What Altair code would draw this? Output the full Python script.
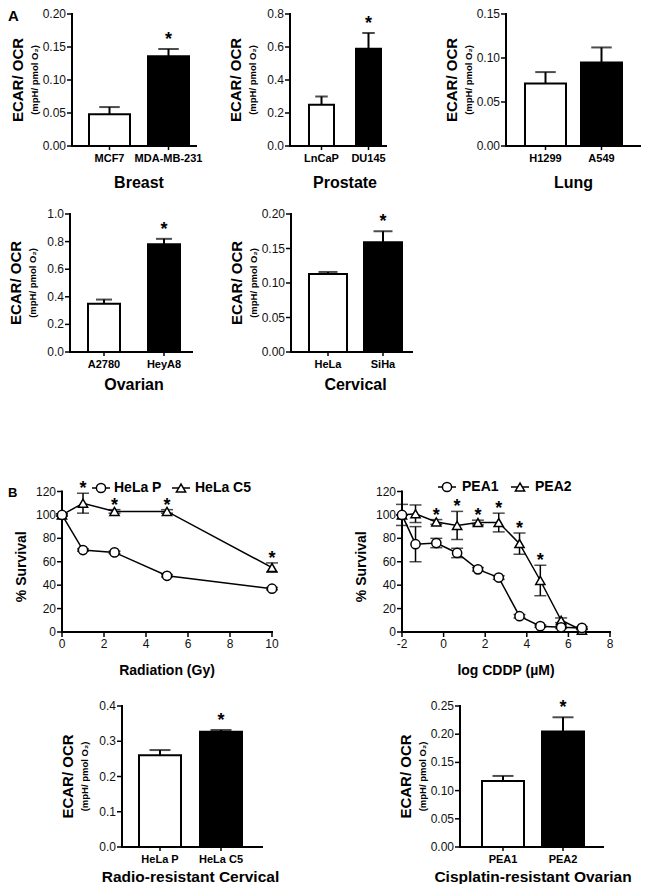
import altair as alt
import pandas as pd

# ---------------- data ----------------
breast_cells = ["MCF7", "MDA-MB-231"]
breast_ratio = [0.048, 0.136]
breast_sem = [0.011, 0.011]
breast_sig = [False, True]

prostate_cells = ["LnCaP", "DU145"]
prostate_ratio = [0.25, 0.59]
prostate_sem = [0.05, 0.095]
prostate_sig = [False, True]

lung_cells = ["H1299", "A549"]
lung_ratio = [0.071, 0.095]
lung_sem = [0.013, 0.017]
lung_sig = [False, False]

ovarian_cells = ["A2780", "HeyA8"]
ovarian_ratio = [0.35, 0.78]
ovarian_sem = [0.03, 0.04]
ovarian_sig = [False, True]

cervical_cells = ["HeLa", "SiHa"]
cervical_ratio = [0.113, 0.159]
cervical_sem = [0.003, 0.016]
cervical_sig = [False, True]

radio_cells = ["HeLa P", "HeLa C5"]
radio_ratio = [0.26, 0.327]
radio_sem = [0.015, 0.005]
radio_sig = [False, True]

cis_cells = ["PEA1", "PEA2"]
cis_ratio = [0.117, 0.205]
cis_sem = [0.009, 0.025]
cis_sig = [False, True]

rad_names = ["HeLa P", "HeLa C5"]
rad_dose = [0, 1, 2.5, 5, 10]
helap_surv = [100, 70, 68, 48, 37]
helap_sem = [1, 1, 1, 1, 1]
helac5_surv = [100, 110, 103, 103, 55]
helac5_sem = [1, 8.5, 1.5, 1.5, 4]
helac5_sig = [False, True, True, True, True]

cddp_names = ["PEA1", "PEA2"]
cddp_log = [-2, -1.35, -0.35, 0.65, 1.65, 2.65, 3.65, 4.65, 5.65, 6.65]
pea1_surv = [100, 75, 76, 67.5, 53.5, 46.5, 13.5, 5, 4, 3.5]
pea1_sem = [9, 15, 4, 4, 1.5, 1.5, 1.5, 1, 1, 1]
pea2_surv = [100, 101, 94, 91, 93.5, 93.5, 75.5, 44, 10, 1.5]
pea2_sem = [0, 7.5, 2, 12, 2, 8, 9, 13, 2, 1]
pea2_sig = [False, False, True, True, True, True, True, True, False, False]

surv_ticks = [0, 20, 40, 60, 80, 100, 120]
rad_ticks = [0, 2, 4, 6, 8, 10]
cddp_ticks = [-2, 0, 2, 4, 6, 8]

# ---------------- layout ----------------
W, H = 650, 876
FONT = "Liberation Sans, Arial, Helvetica, sans-serif"
INK = "black"


def P(v):
    return v - 8


def label(text, x, y, size, weight="bold", angle=0, align="center", baseline="middle"):
    return alt.Chart(pd.DataFrame({"t": [text]})).mark_text(
        text=text, font=FONT, fontSize=size, fontWeight=weight, angle=angle,
        align=align, baseline=baseline, color=INK
    ).encode(x=alt.value(P(x)), y=alt.value(P(y)))


def y_axis(ys, ticks, fmt, ax, font_size=12):
    df = pd.DataFrame({"t": ticks, "lab": [format(t, fmt) for t in ticks]})
    dom = alt.Chart(pd.DataFrame({"a": [ticks[0]], "b": [ticks[-1]]})).mark_rule(
        color=INK, strokeWidth=2, strokeCap="square").encode(
        x=alt.value(P(ax)), y=alt.Y("a:Q", scale=ys, axis=None), y2="b:Q")
    tk = alt.Chart(df).mark_rule(color=INK, strokeWidth=1.5).encode(
        x=alt.value(P(ax) - 5), x2=alt.value(P(ax)), y=alt.Y("t:Q", scale=ys, axis=None))
    lb = alt.Chart(df).mark_text(font=FONT, fontSize=font_size, align="right", baseline="middle",
                                 color="#111").encode(
        x=alt.value(P(ax) - 6), y=alt.Y("t:Q", scale=ys, axis=None), text="lab:N")
    return [dom, tk, lb]


def bar_panel(cells, vals, errs, sig, yticks, fmt, g, title, title_y, title_size=16):
    df = pd.DataFrame({
        "cell": cells, "v": vals,
        "lo": [v - e for v, e in zip(vals, errs)],
        "hi": [v + e for v, e in zip(vals, errs)],
        "fill": ["white", "black"],
    })
    stars = df[[bool(s) for s in sig]]
    span = g["xend"] - g["ax"]
    step = g["bw"] + g["gap"]
    pin = g["gap"] / step
    pout = (span / step - (2 - pin)) / 2
    align = g["lgap"] / (span - 2 * g["bw"] - g["gap"])
    xs = alt.Scale(domain=cells, range=[P(g["ax"]), P(g["xend"])],
                   paddingInner=pin, paddingOuter=pout, align=align)
    ys = alt.Scale(domain=[yticks[0], yticks[-1]], range=[P(g["ybot"]), P(g["ytop"])],
                   nice=False, zero=False)
    xe = alt.X("cell:N", scale=xs, sort=cells, axis=None)
    bars = alt.Chart(df).mark_bar(stroke=INK, strokeWidth=2).encode(
        x=xe, y=alt.Y("v:Q", scale=ys, axis=None),
        fill=alt.Fill("fill:N", scale=None),
    )
    rule = alt.Chart(df).mark_rule(color=INK, strokeWidth=2).encode(
        x=xe, y=alt.Y("lo:Q", scale=ys, axis=None), y2="hi:Q")
    cap_hi = alt.Chart(df).mark_tick(color=INK, thickness=2, size=g["bw"] / 2).encode(
        x=xe, y=alt.Y("hi:Q", scale=ys, axis=None))
    cap_lo = alt.Chart(df).mark_tick(color=INK, thickness=2, size=g["bw"] / 2).encode(
        x=xe, y=alt.Y("lo:Q", scale=ys, axis=None))
    star = alt.Chart(stars).mark_text(text="*", font=FONT, fontSize=18, fontWeight="bold",
                                      baseline="alphabetic", dy=-4, color=INK).encode(
        x=xe, y=alt.Y("hi:Q", scale=ys, axis=None))
    xdom = alt.Chart(pd.DataFrame({"a": [yticks[0]]})).mark_rule(
        color=INK, strokeWidth=2, strokeCap="square").encode(
        x=alt.value(P(g["ax"])), x2=alt.value(P(g["xend"])), y=alt.Y("a:Q", scale=ys, axis=None))
    xtk = alt.Chart(df).mark_rule(color=INK, strokeWidth=1.5).encode(
        x=xe, y=alt.value(P(g["ybot"])), y2=alt.value(P(g["ybot"]) + 4))
    xlb = alt.Chart(df).mark_text(font=FONT, fontSize=11, fontWeight="bold", baseline="top",
                                  color=INK).encode(
        x=xe, y=alt.value(P(g["ybot"]) + 7), text="cell:N")
    mid = (g["ytop"] + g["ybot"]) / 2
    bar_mid = g["ax"] + g["lgap"] + g["bw"] + g["gap"] / 2
    panel = alt.layer(rule, cap_lo, bars, cap_hi, star, xdom, xtk, xlb,
                      *y_axis(ys, yticks, fmt, g["ax"]))
    return [
        panel,
        label("ECAR/ OCR", g["ax"] - 54, mid, 15, angle=270),
        label("(mpH/ pmol O\u2082)", g["ax"] - 37, mid, 9.5, angle=270),
        label(title, bar_mid, title_y, title_size),
    ]


def legend_entry(name, shape, sx, tx, y):
    seg = alt.Chart(pd.DataFrame({"n": [name]})).mark_rule(color=INK, strokeWidth=1.5).encode(
        x=alt.value(P(sx) - 9), x2=alt.value(P(sx) + 9), y=alt.value(P(y)))
    sym = alt.Chart(pd.DataFrame({"n": [name]})).mark_point(
        shape=shape, filled=True, fill="white", stroke=INK, strokeWidth=1.5, size=85, opacity=1).encode(
        x=alt.value(P(sx)), y=alt.value(P(y)))
    txt = label(name, tx, y, 14, align="left")
    return [seg, sym, txt]


def surv_panel(xvals, names, survs, sems, sig, g, xticks, leg, xtitle):
    rows = []
    for name, s, e in reversed(list(zip(names, survs, sems))):
        for xv, sv, ev in zip(xvals, s, e):
            rows.append({"series": name, "x": xv, "y": sv, "lo": sv - ev, "hi": sv + ev})
    df = pd.DataFrame(rows)
    st = pd.DataFrame({
        "x": [xv for xv, f in zip(xvals, sig) if f],
        "hi": [sv + ev for sv, ev, f in zip(survs[1], sems[1], sig) if f],
    })
    xs = alt.Scale(domain=[xticks[0], xticks[-1]], range=[P(g["x0"]), P(g["x1"])], nice=False, zero=False)
    ys = alt.Scale(domain=[surv_ticks[0], surv_ticks[-1]], range=[P(g["y0"]), P(g["y120"])],
                   nice=False, zero=False)
    xe = alt.X("x:Q", scale=xs, axis=None)
    ye = alt.Y("y:Q", scale=ys, axis=None)
    rule = alt.Chart(df).mark_rule(color=INK, strokeWidth=1.5).encode(
        x=xe, y=alt.Y("lo:Q", scale=ys, axis=None), y2="hi:Q")
    cap_hi = alt.Chart(df).mark_tick(color=INK, thickness=1.5, size=12, orient="horizontal").encode(
        x=xe, y=alt.Y("hi:Q", scale=ys, axis=None))
    cap_lo = alt.Chart(df).mark_tick(color=INK, thickness=1.5, size=12, orient="horizontal").encode(
        x=xe, y=alt.Y("lo:Q", scale=ys, axis=None))
    line = alt.Chart(df).mark_line(color=INK, strokeWidth=1.5).encode(x=xe, y=ye, detail="series:N")
    pts = alt.Chart(df).mark_point(filled=True, fill="white", stroke=INK, strokeWidth=1.5,
                                   size=85, opacity=1).encode(
        x=xe, y=ye,
        shape=alt.Shape("series:N", scale=alt.Scale(domain=names, range=["circle", "triangle-up"]),
                        legend=None),
    )
    star = alt.Chart(st).mark_text(text="*", font=FONT, fontSize=18, fontWeight="bold",
                                   baseline="alphabetic", dy=1, color=INK).encode(
        x=xe, y=alt.Y("hi:Q", scale=ys, axis=None))
    tdf = pd.DataFrame({"t": xticks, "lab": [str(t) for t in xticks]})
    xdom = alt.Chart(pd.DataFrame({"a": [xticks[0]], "b": [xticks[-1]]})).mark_rule(
        color=INK, strokeWidth=2, strokeCap="square").encode(
        x=alt.X("a:Q", scale=xs, axis=None), x2="b:Q", y=alt.value(P(g["y0"])))
    xtk = alt.Chart(tdf).mark_rule(color=INK, strokeWidth=1.5).encode(
        x=alt.X("t:Q", scale=xs, axis=None), y=alt.value(P(g["y0"])), y2=alt.value(P(g["y0"]) + 5))
    xlb = alt.Chart(tdf).mark_text(font=FONT, fontSize=12, baseline="top", color="#111").encode(
        x=alt.X("t:Q", scale=xs, axis=None), y=alt.value(P(g["y0"]) + 7), text="lab:N")
    mid = (g["y0"] + g["y120"]) / 2
    out = [
        alt.layer(xdom, xtk, xlb, *y_axis(ys, surv_ticks, "d", g["x0"]),
                  rule, cap_lo, cap_hi, line, pts, star),
        label("% Survival", g["x0"] - 40, mid + 5, 14, angle=270),
        label(xtitle, (g["x0"] + g["x1"]) / 2, 671, 14),
    ]
    out += legend_entry(names[0], "circle", leg[0], leg[1], leg[4])
    out += legend_entry(names[1], "triangle-up", leg[2], leg[3], leg[4])
    return out


layers = []
layers += bar_panel(breast_cells, breast_ratio, breast_sem, breast_sig,
                    [0.0, 0.05, 0.10, 0.15, 0.20], ".2f",
                    dict(ax=72, xend=196, ytop=14, ybot=146, bw=41, gap=18, lgap=17), "Breast", 183)
layers += bar_panel(prostate_cells, prostate_ratio, prostate_sem, prostate_sig,
                    [0.0, 0.2, 0.4, 0.6, 0.8], ".1f",
                    dict(ax=290, xend=386, ytop=14, ybot=146, bw=25, gap=22, lgap=19), "Prostate", 183)
layers += bar_panel(lung_cells, lung_ratio, lung_sem, lung_sig,
                    [0.0, 0.05, 0.10, 0.15], ".2f",
                    dict(ax=506, xend=640, ytop=14, ybot=146, bw=41, gap=15, lgap=19), "Lung", 183)
layers += bar_panel(ovarian_cells, ovarian_ratio, ovarian_sem, ovarian_sig,
                    [0.0, 0.2, 0.4, 0.6, 0.8, 1.0], ".1f",
                    dict(ax=70, xend=192, ytop=214, ybot=352, bw=32, gap=28, lgap=18), "Ovarian", 385)
layers += bar_panel(cervical_cells, cervical_ratio, cervical_sem, cervical_sig,
                    [0.0, 0.05, 0.10, 0.15, 0.20], ".2f",
                    dict(ax=291, xend=412, ytop=214, ybot=352, bw=38, gap=17, lgap=18), "Cervical", 385)
layers += bar_panel(radio_cells, radio_ratio, radio_sem, radio_sig,
                    [0.0, 0.1, 0.2, 0.3, 0.4], ".1f",
                    dict(ax=122, xend=262, ytop=706, ybot=847, bw=42, gap=19, lgap=17),
                    "Radio-resistant Cervical", 877, 15.5)
layers += bar_panel(cis_cells, cis_ratio, cis_sem, cis_sig,
                    [0.0, 0.05, 0.10, 0.15, 0.20, 0.25], ".2f",
                    dict(ax=460, xend=603, ytop=706, ybot=847, bw=42, gap=18, lgap=22),
                    "Cisplatin-resistant Ovarian", 877, 15.5)
layers += surv_panel(rad_dose, rad_names, [helap_surv, helac5_surv], [helap_sem, helac5_sem], helac5_sig,
                     dict(x0=62, x1=272, y0=632, y120=491.5), rad_ticks,
                     (101, 114, 181, 195, 488), "Radiation (Gy)")
layers += surv_panel(cddp_log, cddp_names, [pea1_surv, pea2_surv], [pea1_sem, pea2_sem], pea2_sig,
                     dict(x0=402, x1=610, y0=632, y120=491.5), cddp_ticks,
                     (447, 462, 520, 535, 487), "log CDDP (\u00b5M)")
layers.append(label("A", 8, 16, 15, align="left"))
layers.append(label("B", 8, 493, 13, align="left"))

chart = alt.layer(*layers).resolve_scale(
    x="independent", y="independent", shape="independent"
).properties(
    width=W, height=H, padding=0, autosize=alt.AutoSizeParams(type="none")
).configure_view(stroke=None)

chart.save("out.html", embed_options={"renderer": "svg", "actions": False})
